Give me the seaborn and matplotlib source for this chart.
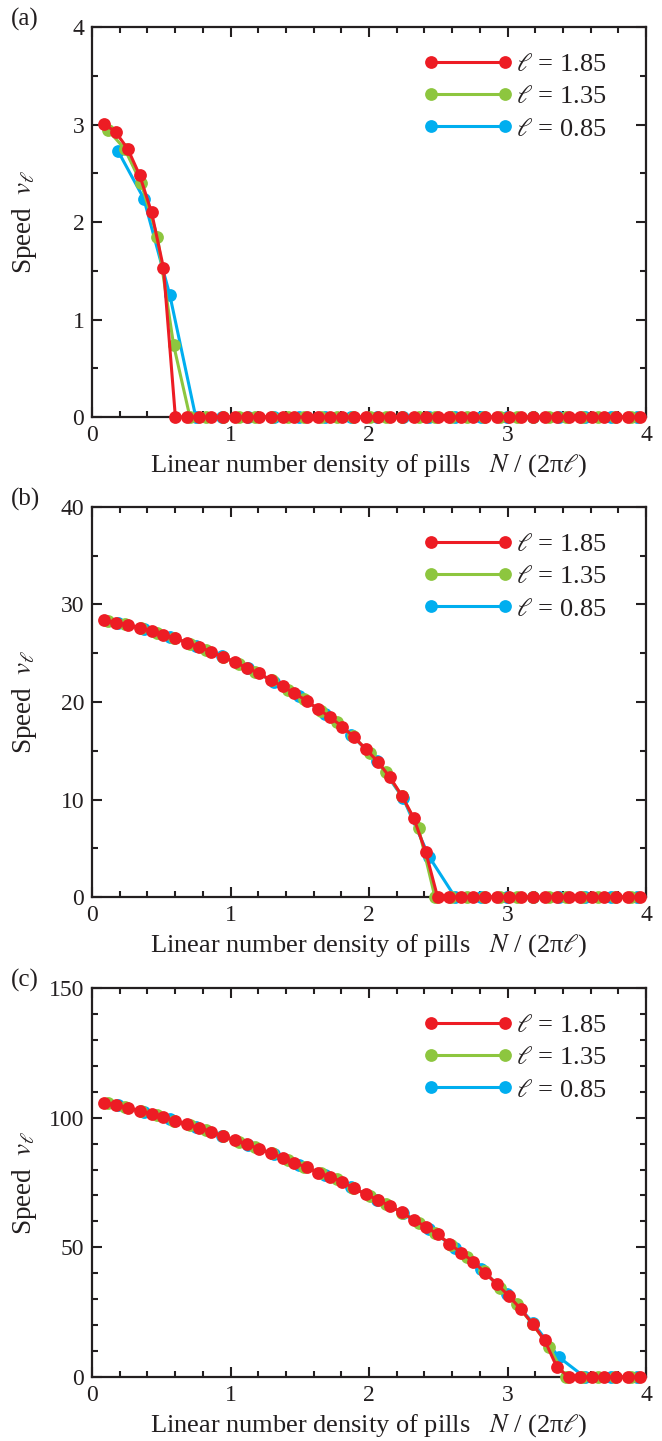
import matplotlib
matplotlib.use("Agg")
import matplotlib.pyplot as plt
import pandas as pd
import seaborn as sns
from matplotlib.ticker import MultipleLocator
from matplotlib.lines import Line2D
from matplotlib.legend_handler import HandlerLine2D

# ---------------- data ----------------
series_labels = [r"$\ell$ = 1.85", r"$\ell$ = 1.35", r"$\ell$ = 0.85"]
series_colors = ["#ED1C24", "#8DC63F", "#00AEEF"]

# x = N / (2 pi l) read for each l
x_185 = [0.086, 0.172, 0.258, 0.344, 0.430, 0.516, 0.602, 0.688, 0.774, 0.860,
         0.946, 1.032, 1.118, 1.204, 1.290, 1.376, 1.462, 1.549, 1.635, 1.721,
         1.807, 1.893, 1.979, 2.065, 2.151, 2.237, 2.323, 2.409, 2.495, 2.581,
         2.667, 2.753, 2.839, 2.925, 3.011, 3.097, 3.183, 3.269, 3.355, 3.441,
         3.527, 3.613, 3.699, 3.785, 3.871, 3.957]
x_135 = [0.118, 0.236, 0.354, 0.472, 0.589, 0.707, 0.825, 0.943, 1.061, 1.179,
         1.297, 1.415, 1.533, 1.650, 1.768, 1.886, 2.004, 2.122, 2.240, 2.358,
         2.476, 2.594, 2.711, 2.829, 2.947, 3.065, 3.183, 3.301, 3.419, 3.537,
         3.655, 3.773, 3.890]
x_085 = [0.187, 0.374, 0.562, 0.749, 0.936, 1.123, 1.311, 1.498, 1.685, 1.872,
         2.060, 2.247, 2.434, 2.621, 2.809, 2.996, 3.183, 3.370, 3.557, 3.745,
         3.932]

# panel (a)
va_185 = [3.01, 2.92, 2.75, 2.48, 2.10, 1.53, 0, 0, 0, 0,
          0, 0, 0, 0, 0, 0, 0, 0, 0, 0,
          0, 0, 0, 0, 0, 0, 0, 0, 0, 0,
          0, 0, 0, 0, 0, 0, 0, 0, 0, 0,
          0, 0, 0, 0, 0, 0]
va_135 = [2.94, 2.75, 2.40, 1.85, 0.74, 0, 0, 0, 0, 0,
          0, 0, 0, 0, 0, 0, 0, 0, 0, 0,
          0, 0, 0, 0, 0, 0, 0, 0, 0, 0,
          0, 0, 0]
va_085 = [2.73, 2.24, 1.25, 0, 0, 0, 0, 0, 0, 0,
          0, 0, 0, 0, 0, 0, 0, 0, 0, 0,
          0]

# panel (b)
vb_185 = [28.37, 28.13, 27.93, 27.62, 27.28, 26.90, 26.53, 26.08, 25.67, 25.15,
          24.64, 24.07, 23.52, 22.94, 22.26, 21.60, 20.90, 20.13, 19.25, 18.43,
          17.47, 16.38, 15.15, 13.85, 12.28, 10.39, 8.10, 4.65, 0, 0,
          0, 0, 0, 0, 0, 0, 0, 0, 0, 0,
          0, 0, 0, 0, 0, 0]
vb_135 = [28.28, 27.98, 27.58, 27.09, 26.59, 25.99, 25.36, 24.66, 23.88, 23.11,
          22.21, 21.28, 20.27, 19.11, 17.91, 16.47, 14.77, 12.81, 10.31, 7.04,
          0, 0, 0, 0, 0, 0, 0, 0, 0, 0,
          0, 0, 0]
vb_085 = [28.10, 27.50, 26.70, 25.79, 24.70, 23.49, 22.10, 20.58, 18.77, 16.65,
          13.93, 10.12, 4.13, 0, 0, 0, 0, 0, 0, 0,
          0]

# panel (c)
vc_185 = [105.8, 104.9, 103.8, 102.6, 101.5, 100.3, 98.7, 97.4, 96.2, 94.6,
          92.9, 91.4, 89.7, 88.1, 86.3, 84.6, 82.7, 80.8, 78.8, 77.2,
          75.3, 72.7, 70.4, 68.3, 66.0, 63.5, 60.5, 58.0, 55.0, 51.4,
          47.9, 44.5, 40.2, 35.7, 31.2, 26.1, 20.3, 14.1, 4.0, 0,
          0, 0, 0, 0, 0, 0]
vc_135 = [105.5, 104.1, 102.5, 100.9, 98.9, 97.1, 95.3, 93.0, 90.8, 88.6,
          86.2, 83.7, 81.1, 78.5, 76.2, 72.9, 69.8, 66.8, 63.4, 59.5,
          55.7, 50.9, 46.2, 40.7, 34.5, 28.0, 20.3, 11.5, 0, 0,
          0, 0, 0]
vc_085 = [104.7, 102.2, 99.4, 96.5, 93.1, 89.6, 85.9, 81.9, 77.9, 73.3,
          68.4, 63.2, 57.1, 49.8, 41.7, 32.0, 21.0, 7.7, 0, 0,
          0]

panel_tags = ["(a)", "(b)", "(c)"]
y_limits = [4, 40, 150]
y_major = [1, 10, 50]
y_minor = [0.5, 5, 10]
x_ticks = [0, 1, 2, 3, 4]

# ---------------- style ----------------
sns.set_style("ticks")
plt.rcParams["font.family"] = ["Liberation Serif", "DejaVu Serif"]
plt.rcParams["mathtext.fontset"] = "stix"
plt.rcParams["axes.linewidth"] = 1.6

W, H = 662, 1441
fig = plt.figure(figsize=(W / 100, H / 100), dpi=100)

left_px, right_px = 92, 646
panels_px = [(27, 417), (507, 897), (988, 1377)]

values = [
    (va_185, va_135, va_085),
    (vb_185, vb_135, vb_085),
    (vc_185, vc_135, vc_085),
]
xs = (x_185, x_135, x_085)
MS = 9.2
LW = 2.2
INK = "#231F20"

for i, (top, bot) in enumerate(panels_px):
    ax = fig.add_axes([left_px / W, 1 - bot / H, (right_px - left_px) / W, (bot - top) / H])
    # draw blue first, red on top
    for k in [2, 1, 0]:
        df = pd.DataFrame({"x": xs[k], "v": values[i][k]})
        sns.lineplot(data=df, x="x", y="v", ax=ax, color=series_colors[k],
                     marker="o", markersize=MS, markeredgewidth=0,
                     linewidth=LW, estimator=None, sort=False, legend=False)
    for ln in ax.lines:
        ln.set_clip_on(False)
        ln.set_zorder(3)

    ax.set_xlim(0, 4)
    ax.set_ylim(0, y_limits[i])
    ax.set_xticks(x_ticks)
    ax.xaxis.set_minor_locator(MultipleLocator(0.2))
    ax.yaxis.set_major_locator(MultipleLocator(y_major[i]))
    ax.yaxis.set_minor_locator(MultipleLocator(y_minor[i]))
    ax.tick_params(which="both", direction="in", top=True, right=True,
                   labelsize=17, width=1.5, colors=INK)
    ax.tick_params(which="major", length=7.5, pad=5.5)
    ax.tick_params(which="minor", length=4.5)
    for sp in ax.spines.values():
        sp.set_color(INK)
        sp.set_linewidth(1.6)

    ax.set_xlabel("Linear number density of pills   $N$ / (2π$\\ell$)", fontsize=19, color=INK)
    ax.set_ylabel("Speed  $v_{\\ell}$", fontsize=19.5, color=INK)
    ax.xaxis.set_label_coords(0.5, -0.09)
    ax.yaxis.set_label_coords(-0.095, 0.5)

    handles = [Line2D([0], [0], color=c, marker="o", markersize=MS,
                      markeredgewidth=0, linewidth=LW) for c in series_colors]
    ax.legend(handles, series_labels, loc="upper right", bbox_to_anchor=(0.928, 0.935),
              frameon=False, fontsize=19, numpoints=2, handlelength=2.8,
              handletextpad=0.42, labelspacing=0.34, borderpad=0, borderaxespad=0,
              labelcolor=INK,
              handler_map={Line2D: HandlerLine2D(marker_pad=0.0, numpoints=2)})

    fig.text(11 / W, 1 - (top - 8) / H, panel_tags[i], fontsize=18,
             ha="left", va="center", color=INK)

fig.savefig("out.png", dpi=100)
